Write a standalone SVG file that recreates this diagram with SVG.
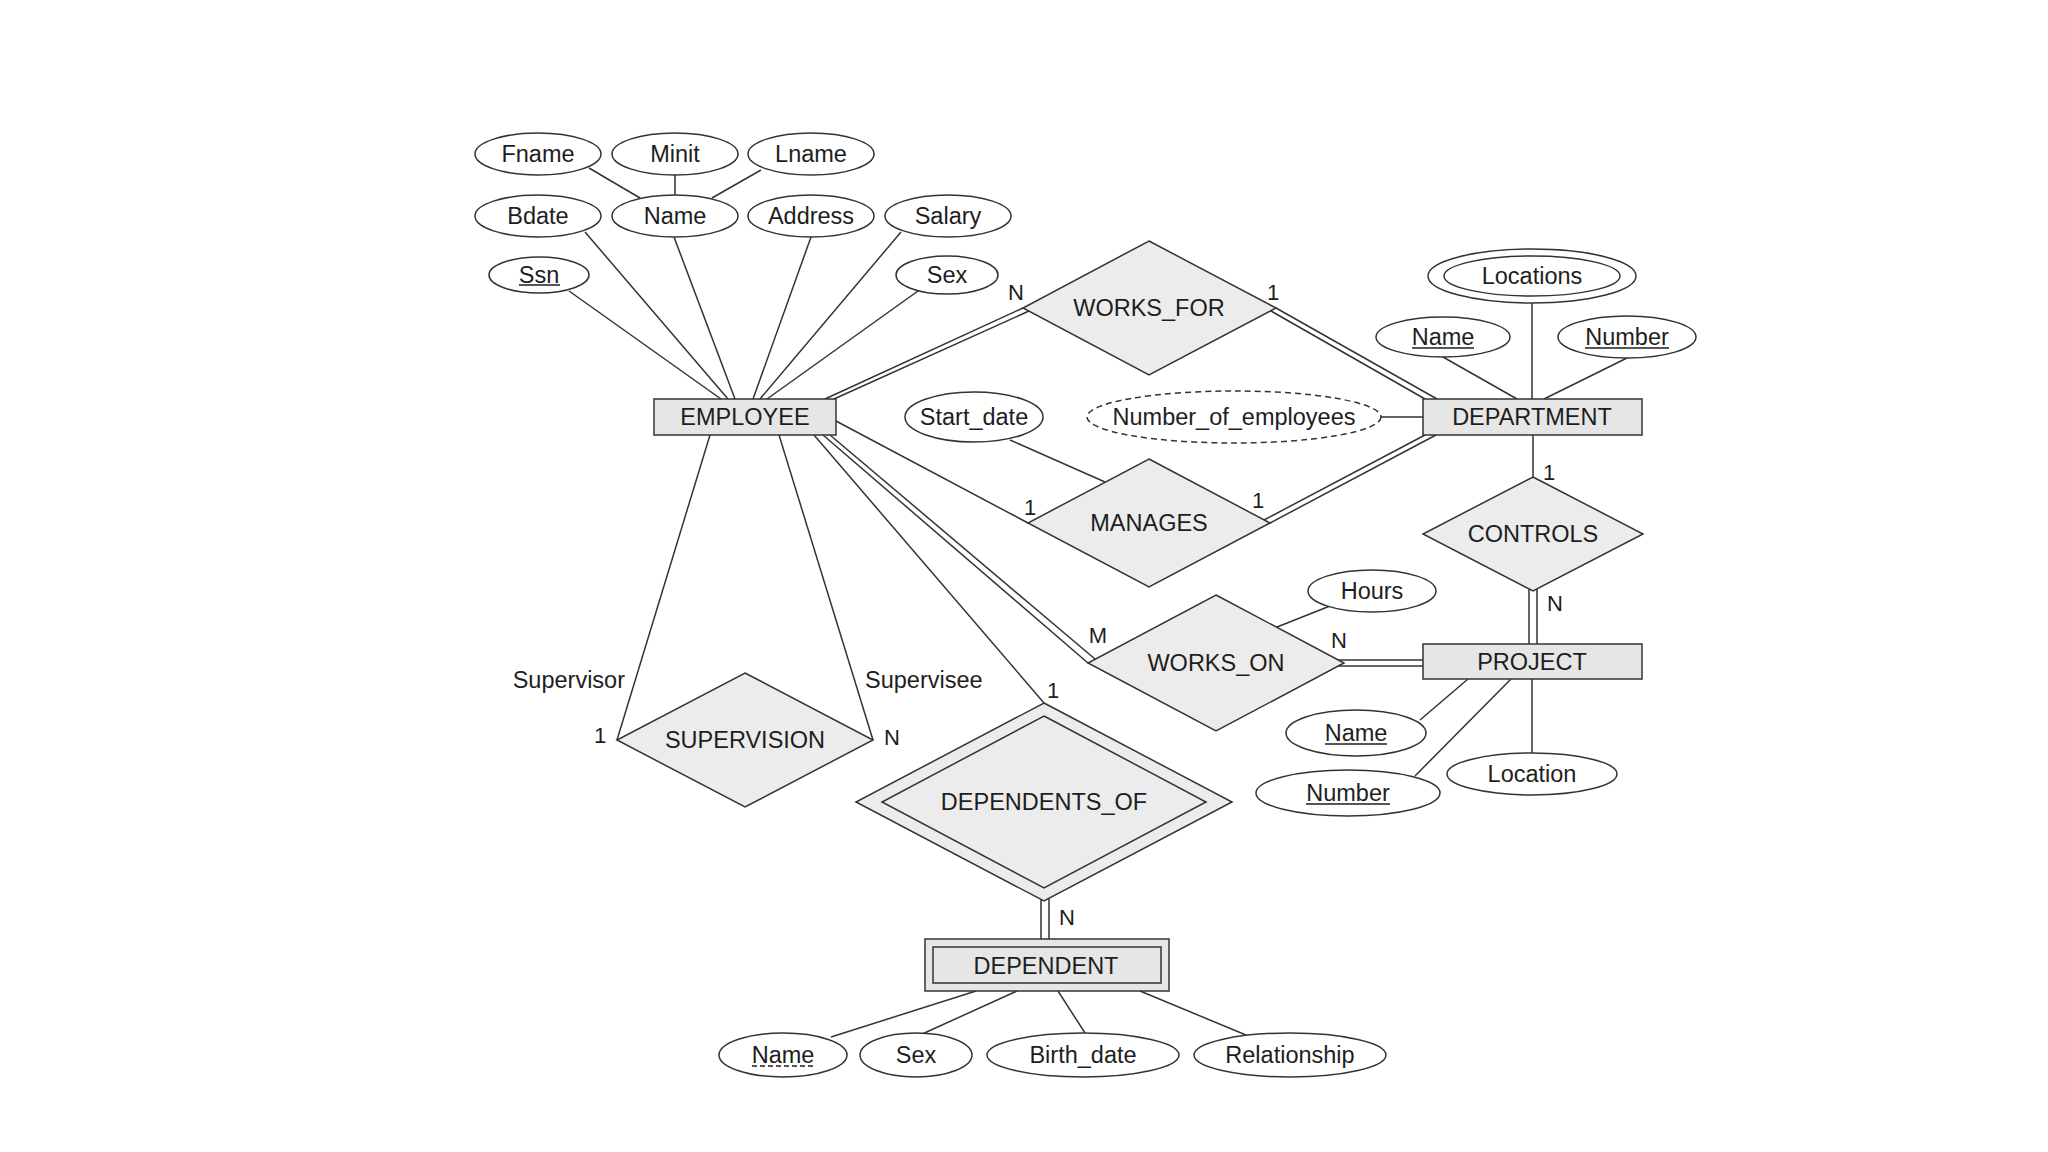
<svg xmlns="http://www.w3.org/2000/svg" width="2048" height="1152" viewBox="0 0 2048 1152">
<style>
  .ln{stroke:#333;stroke-width:1.5;fill:none}
  .att{fill:#fff;stroke:#333;stroke-width:1.5}
  .dash{fill:#fff;stroke:#333;stroke-width:1.5;stroke-dasharray:6 4}
  .ent{fill:#e6e6e6;stroke:#333;stroke-width:1.5}
  .rel{fill:#ececec;stroke:#333;stroke-width:1.5}
  text{font-family:"Liberation Sans",Arial,sans-serif;font-size:23.5px;fill:#1e1e1e;text-anchor:middle}
  .lbl{font-size:22px}
  .role{text-anchor:start}
  .ul{stroke:#1e1e1e;stroke-width:1.5}
  .uld{stroke:#1e1e1e;stroke-width:1.5;stroke-dasharray:5 3}
</style>
<rect width="2048" height="1152" fill="#fff"/>
<g id="connectors">
  <line class="ln" x1="589" y1="168" x2="640" y2="198"/>
  <line class="ln" x1="675" y1="175" x2="675" y2="195"/>
  <line class="ln" x1="761" y1="170" x2="712" y2="198"/>
  <line class="ln" x1="585" y1="232" x2="728" y2="399"/>
  <line class="ln" x1="569" y1="291" x2="721" y2="399"/>
  <line class="ln" x1="674" y1="237" x2="735" y2="399"/>
  <line class="ln" x1="811" y1="237" x2="753" y2="399"/>
  <line class="ln" x1="901" y1="232" x2="760" y2="399"/>
  <line class="ln" x1="918" y1="291" x2="767" y2="399"/>
  <line class="ln" x1="825" y1="399" x2="1023" y2="308"/>
  <line class="ln" x1="834" y1="399" x2="1029" y2="311"/>
  <line class="ln" x1="1276" y1="308" x2="1437" y2="399"/>
  <line class="ln" x1="1271" y1="311" x2="1425" y2="399"/>
  <line class="ln" x1="1532" y1="303" x2="1532" y2="399"/>
  <line class="ln" x1="1443" y1="357" x2="1517" y2="399"/>
  <line class="ln" x1="1627" y1="358" x2="1544" y2="399"/>
  <line class="ln" x1="1381" y1="417" x2="1423" y2="417"/>
  <line class="ln" x1="1010" y1="440" x2="1105" y2="482"/>
  <line class="ln" x1="836" y1="421" x2="1028" y2="523"/>
  <line class="ln" x1="1270" y1="523" x2="1436" y2="435"/>
  <line class="ln" x1="1264" y1="520" x2="1425" y2="435"/>
  <line class="ln" x1="1533" y1="435" x2="1533" y2="477"/>
  <line class="ln" x1="1529" y1="589" x2="1529" y2="644"/>
  <line class="ln" x1="1537" y1="589" x2="1537" y2="644"/>
  <line class="ln" x1="823" y1="435" x2="1088" y2="663"/>
  <line class="ln" x1="830" y1="435" x2="1095" y2="659"/>
  <line class="ln" x1="1330" y1="606" x2="1277" y2="627"/>
  <line class="ln" x1="1338" y1="660" x2="1423" y2="660"/>
  <line class="ln" x1="1338" y1="666" x2="1423" y2="666"/>
  <line class="ln" x1="1420" y1="720" x2="1468" y2="679"/>
  <line class="ln" x1="1415" y1="776" x2="1511" y2="679"/>
  <line class="ln" x1="1532" y1="753" x2="1532" y2="679"/>
  <line class="ln" x1="710" y1="435" x2="617" y2="740"/>
  <line class="ln" x1="779" y1="435" x2="873" y2="740"/>
  <line class="ln" x1="814" y1="435" x2="1044" y2="703"/>
  <line class="ln" x1="1041" y1="899" x2="1041" y2="939"/>
  <line class="ln" x1="1049" y1="899" x2="1049" y2="939"/>
  <line class="ln" x1="831" y1="1037" x2="976" y2="991"/>
  <line class="ln" x1="920" y1="1035" x2="1017" y2="991"/>
  <line class="ln" x1="1085" y1="1033" x2="1058" y2="991"/>
  <line class="ln" x1="1246" y1="1035" x2="1140" y2="991"/>
</g>
<g id="labels">
  <text class="lbl" x="1016" y="300">N</text>
  <text class="lbl" x="1273" y="300">1</text>
  <text class="lbl" x="1030" y="515">1</text>
  <text class="lbl" x="1258" y="508">1</text>
  <text class="lbl" x="1549" y="480">1</text>
  <text class="lbl" x="1555" y="611">N</text>
  <text class="lbl" x="1098" y="643">M</text>
  <text class="lbl" x="1339" y="648">N</text>
  <text class="lbl" x="1053" y="698">1</text>
  <text class="lbl" x="1067" y="925">N</text>
  <text class="lbl" x="600" y="743">1</text>
  <text class="lbl" x="892" y="745">N</text>
  <text x="625" y="688" style="text-anchor:end">Supervisor</text>
  <text class="role" x="865" y="688">Supervisee</text>
</g>
<g id="attr-fname"><ellipse class="att" cx="538" cy="154" rx="63" ry="21"/><text x="538" y="162">Fname</text></g>
<g id="attr-minit"><ellipse class="att" cx="675" cy="154" rx="63" ry="21"/><text x="675" y="162">Minit</text></g>
<g id="attr-lname"><ellipse class="att" cx="811" cy="154" rx="63" ry="21"/><text x="811" y="162">Lname</text></g>
<g id="attr-bdate"><ellipse class="att" cx="538" cy="216" rx="63" ry="21"/><text x="538" y="224">Bdate</text></g>
<g id="attr-name"><ellipse class="att" cx="675" cy="216" rx="63" ry="21"/><text x="675" y="224">Name</text></g>
<g id="attr-address"><ellipse class="att" cx="811" cy="216" rx="63" ry="21"/><text x="811" y="224">Address</text></g>
<g id="attr-salary"><ellipse class="att" cx="948" cy="216" rx="63" ry="21"/><text x="948" y="224">Salary</text></g>
<g id="attr-ssn"><ellipse class="att" cx="539" cy="275" rx="50" ry="18"/><text x="539" y="283">Ssn</text><line class="ul" x1="519" y1="285" x2="560" y2="285"/></g>
<g id="attr-sex"><ellipse class="att" cx="947" cy="275" rx="51" ry="19"/><text x="947" y="283">Sex</text></g>
<g id="employee"><rect class="ent" x="654" y="399" width="182" height="36"/><text x="745" y="425">EMPLOYEE</text></g>
<g id="works_for"><polygon class="rel" points="1149,241 1276,308 1149,375 1023,308"/><text x="1149" y="316">WORKS_FOR</text></g>
<g id="attr-start_date"><ellipse class="att" cx="974" cy="417" rx="69" ry="25"/><text x="974" y="425">Start_date</text></g>
<g id="attr-number_of_employees"><ellipse class="dash" cx="1234" cy="417" rx="147" ry="26"/><text x="1234" y="425">Number_of_employees</text></g>
<g id="department"><rect class="ent" x="1423" y="399" width="219" height="36"/><text x="1532" y="425">DEPARTMENT</text></g>
<g id="attr-locations"><ellipse class="att" cx="1532" cy="276" rx="104" ry="27"/><ellipse class="att" cx="1532" cy="276" rx="88" ry="20"/><text x="1532" y="284">Locations</text></g>
<g id="attr-dept-name"><ellipse class="att" cx="1443" cy="337" rx="67" ry="20"/><text x="1443" y="345">Name</text><line class="ul" x1="1412" y1="348" x2="1474" y2="348"/></g>
<g id="attr-dept-number"><ellipse class="att" cx="1627" cy="337" rx="69" ry="21"/><text x="1627" y="345">Number</text><line class="ul" x1="1585" y1="348" x2="1669" y2="348"/></g>
<g id="manages"><polygon class="rel" points="1149,459 1270,523 1149,587 1028,523"/><text x="1149" y="531">MANAGES</text></g>
<g id="controls"><polygon class="rel" points="1533,477 1643,534 1533,591 1423,534"/><text x="1533" y="542">CONTROLS</text></g>
<g id="attr-hours"><ellipse class="att" cx="1372" cy="591" rx="64" ry="21"/><text x="1372" y="599">Hours</text></g>
<g id="works_on"><polygon class="rel" points="1216,595 1344,663 1216,731 1088,663"/><text x="1216" y="671">WORKS_ON</text></g>
<g id="project"><rect class="ent" x="1423" y="644" width="219" height="35"/><text x="1532" y="670">PROJECT</text></g>
<g id="attr-proj-name"><ellipse class="att" cx="1356" cy="733" rx="70" ry="23"/><text x="1356" y="741">Name</text><line class="ul" x1="1325" y1="744" x2="1387" y2="744"/></g>
<g id="attr-proj-number"><ellipse class="att" cx="1348" cy="793" rx="92" ry="23"/><text x="1348" y="801">Number</text><line class="ul" x1="1306" y1="804" x2="1390" y2="804"/></g>
<g id="attr-location"><ellipse class="att" cx="1532" cy="774" rx="85" ry="21"/><text x="1532" y="782">Location</text></g>
<g id="supervision"><polygon class="rel" points="745,673 873,740 745,807 617,740"/><text x="745" y="748">SUPERVISION</text></g>
<g id="dependents_of"><polygon class="rel" points="1044,703 1232,802 1044,901 856,802"/><polygon class="rel" points="1044,716 1206,802 1044,888 882,802"/><text x="1044" y="810">DEPENDENTS_OF</text></g>
<g id="dependent"><rect class="ent" x="925" y="939" width="244" height="52"/><rect class="ent" x="933" y="947" width="228" height="36"/><text x="1046" y="974">DEPENDENT</text></g>
<g id="attr-dep-name"><ellipse class="att" cx="783" cy="1055" rx="64" ry="22"/><text x="783" y="1063">Name</text><line class="uld" x1="752" y1="1066" x2="814" y2="1066"/></g>
<g id="attr-dep-sex"><ellipse class="att" cx="916" cy="1055" rx="56" ry="22"/><text x="916" y="1063">Sex</text></g>
<g id="attr-birth_date"><ellipse class="att" cx="1083" cy="1055" rx="96" ry="22"/><text x="1083" y="1063">Birth_date</text></g>
<g id="attr-relationship"><ellipse class="att" cx="1290" cy="1055" rx="96" ry="22"/><text x="1290" y="1063">Relationship</text></g>
</svg>
